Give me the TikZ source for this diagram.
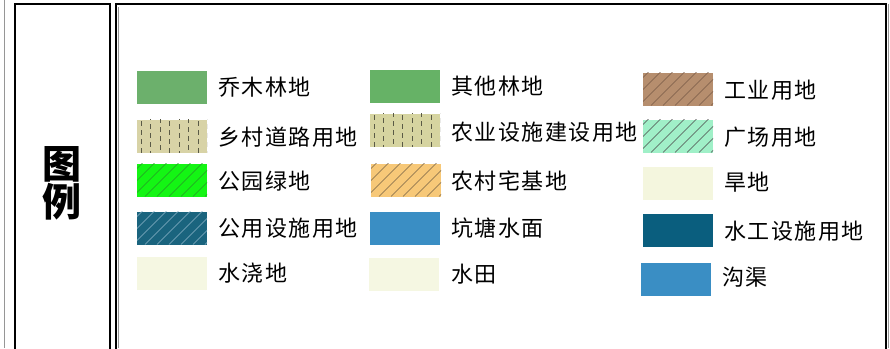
\documentclass[tikz,border=0pt]{standalone}
\usepackage{fontspec}
\newfontfamily\cjk{Noto Sans CJK SC}
\newfontfamily\cjklabel[LetterSpace=7]{Noto Sans CJK SC}
\definecolor{forestA}{RGB}{108,176,108}
\definecolor{forestB}{RGB}{102,178,102}
\definecolor{industry}{RGB}{182,142,110}
\definecolor{industryL}{RGB}{120,90,70}
\definecolor{road}{RGB}{216,211,166}
\definecolor{farmfac}{RGB}{214,212,160}
\definecolor{dashc}{RGB}{90,90,70}
\definecolor{square}{RGB}{160,240,200}
\definecolor{park}{RGB}{20,245,20}
\definecolor{parkL}{RGB}{40,150,40}
\definecolor{homestead}{RGB}{247,200,120}
\definecolor{homesteadL}{RGB}{120,100,70}
\definecolor{dry}{RGB}{244,246,222}
\definecolor{utility}{RGB}{26,100,126}
\definecolor{utilityL}{RGB}{140,180,200}
\definecolor{pond}{RGB}{58,142,196}
\definecolor{hydro}{RGB}{10,94,126}
\definecolor{irrig}{RGB}{245,247,226}
\definecolor{shadow}{RGB}{150,150,150}
\tikzset{
  swatch/.style={draw=none, minimum width=70pt, minimum height=33pt, inner sep=0pt, outer sep=0pt},
  diag/.style={path picture={\foreach \k in {0,...,10}{\draw[#1, line width=0.6pt] ([xshift=\k*12pt-40pt]path picture bounding box.south west) -- ++(50pt,50pt);}}},
  vdashes/.style={path picture={\foreach \k in {0,...,7}{\pgfmathsetmacro\ph{mod(\k,3)*3}\draw[#1, line width=0.7pt, dash pattern=on 5pt off 4pt, dash phase=\ph pt] ([xshift=\k*9.5pt+4pt]path picture bounding box.south west) -- ++(0pt,40pt);}}},
  label/.style={anchor=west, inner sep=0pt, font=\cjklabel\fontsize{22}{24}\selectfont},
  frame/.style={draw=black, line width=2.2pt},
}
\begin{document}
\begin{tikzpicture}[x=1pt,y=-1pt]
\useasboundingbox (0,0) rectangle (890,348);
% frames
\draw[shadow, line width=0.8pt] (4,0) -- (4,348);
\draw[frame] (15,360) -- (15,4) -- (110,4) -- (110,360);
\draw[frame] (116,360) -- (116,4) -- (886,4) -- (886,360);
\draw[shadow, line width=0.8pt] (118.5,7) -- (118.5,348);
\draw[shadow, line width=0.8pt] (888.5,4) -- (888.5,348);
\node[font=\cjk\bfseries\fontsize{39}{37}\selectfont, align=center, inner sep=0pt] (title) at (62,183) {图\\例};
% column 1
\node[swatch, fill=forestA] (s1) at (172,87) {};
\node[label] (t1) at (218,87) {乔木林地};
\node[swatch, fill=road, vdashes=dashc] (s2) at (172,136) {};
\node[label] (t2) at (218,137) {乡村道路用地};
\node[swatch, fill=park, diag=parkL] (s3) at (172,180) {};
\node[label] (t3) at (218,181) {公园绿地};
\node[swatch, fill=utility, diag=utilityL] (s4) at (172,228) {};
\node[label] (t4) at (218,228) {公用设施用地};
\node[swatch, fill=irrig] (s5) at (172,273) {};
\node[label] (t5) at (218,273) {水浇地};
% column 2
\node[swatch, fill=forestB] (s6) at (405,86) {};
\node[label] (t6) at (451,86) {其他林地};
\node[swatch, fill=farmfac, vdashes=dashc] (s7) at (405,130) {};
\node[label] (t7) at (451,132) {农业设施建设用地};
\node[swatch, fill=homestead, diag=homesteadL] (s8) at (406,180) {};
\node[label] (t8) at (451,181) {农村宅基地};
\node[swatch, fill=pond] (s9) at (405,228) {};
\node[label] (t9) at (451,228) {坑塘水面};
\node[swatch, fill=irrig] (s10) at (404,274) {};
\node[label] (t10) at (451,274) {水田};
% column 3
\node[swatch, fill=industry, diag=industryL] (s11) at (678,89) {};
\node[label] (t11) at (724,90) {工业用地};
\node[swatch, fill=square, diag=black!70] (s12) at (678,136) {};
\node[label] (t12) at (724,137) {广场用地};
\node[swatch, fill=dry] (s13) at (678,183) {};
\node[label] (t13) at (724,182) {旱地};
\node[swatch, fill=hydro] (s14) at (678,230) {};
\node[label] (t14) at (724,231) {水工设施用地};
\node[swatch, fill=pond] (s15) at (676,279) {};
\node[label] (t15) at (722,277) {沟渠};
\end{tikzpicture}
\end{document}
